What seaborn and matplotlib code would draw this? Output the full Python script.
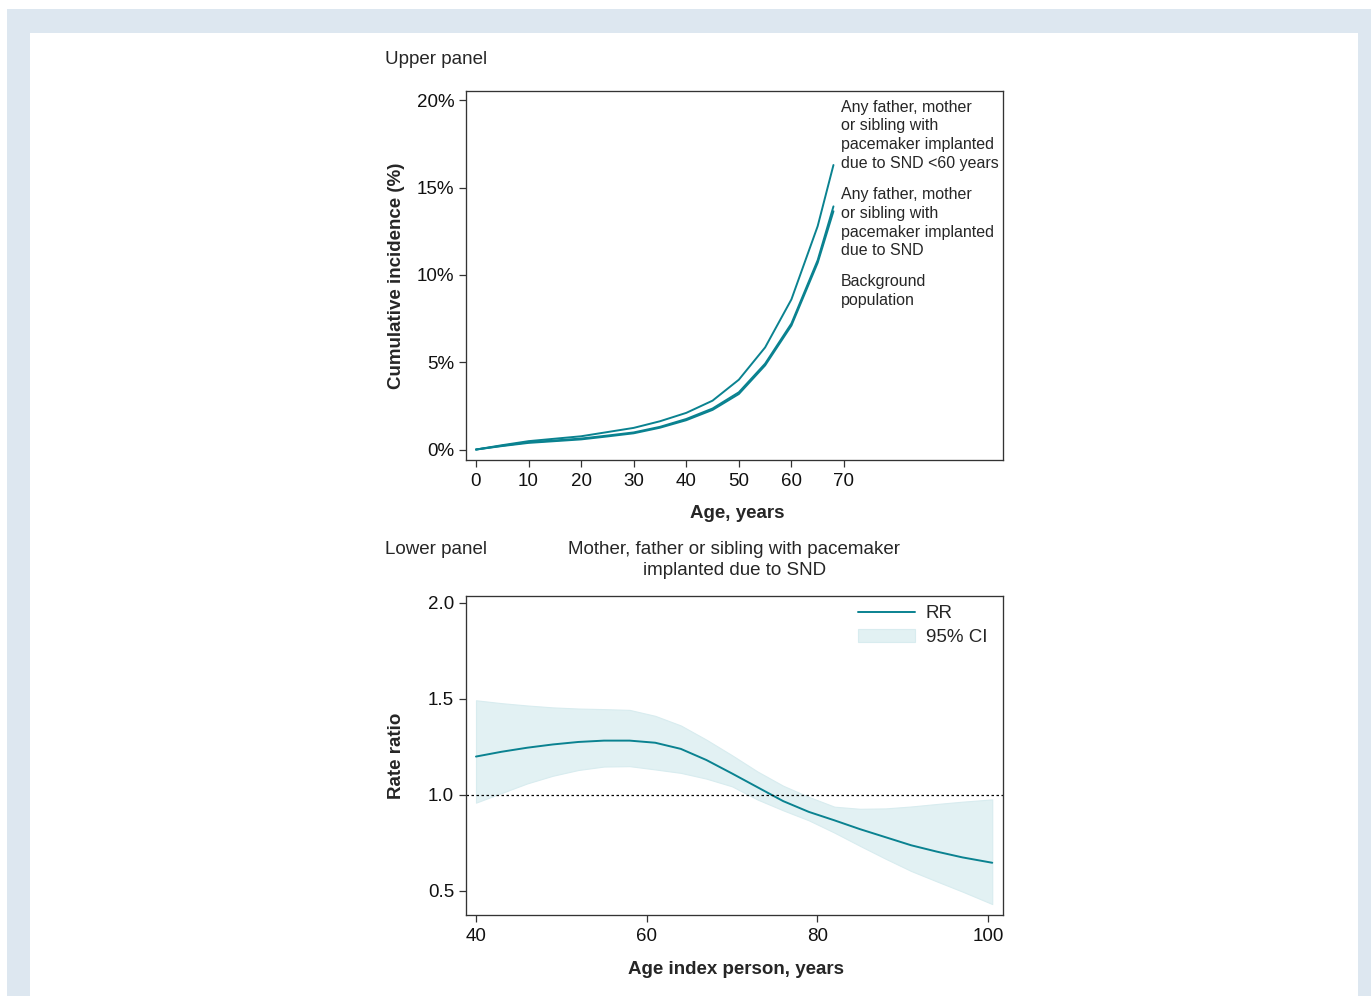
import matplotlib
matplotlib.use("Agg")
import matplotlib.pyplot as plt
import pandas as pd
import seaborn as sns
from matplotlib.patches import Rectangle

# Upper panel: cumulative incidence (%) by age
age_upper = [0, 5, 10, 15, 20, 25, 30, 35, 40, 45, 50, 55, 60, 65, 68]
inc_snd60 = [0.0, 0.25, 0.48, 0.62, 0.76, 1.0, 1.24, 1.62, 2.1, 2.8, 4.0, 5.85, 8.6, 12.8, 16.3]
inc_snd = [0.0, 0.22, 0.42, 0.52, 0.63, 0.8, 0.98, 1.3, 1.75, 2.35, 3.28, 4.92, 7.22, 10.85, 13.93]
inc_background = [0.0, 0.2, 0.38, 0.48, 0.58, 0.75, 0.93, 1.25, 1.68, 2.27, 3.18, 4.82, 7.1, 10.7, 13.65]
upper_labels = [
    "Any father, mother\nor sibling with\npacemaker implanted\ndue to SND <60 years",
    "Any father, mother\nor sibling with\npacemaker implanted\ndue to SND",
    "Background\npopulation",
]

# Lower panel: rate ratio by age of index person
age_lower = [40, 43, 46, 49, 52, 55, 58, 61, 64, 67, 70, 73, 76, 79, 82, 85, 88, 91, 94, 97, 100.5]
rr = [1.20, 1.225, 1.246, 1.263, 1.276, 1.283, 1.283, 1.272, 1.240, 1.182, 1.112,
      1.040, 0.968, 0.912, 0.868, 0.822, 0.780, 0.738, 0.705, 0.675, 0.647]
ci_high = [1.493, 1.478, 1.466, 1.456, 1.450, 1.447, 1.443, 1.412, 1.362, 1.288, 1.207,
           1.122, 1.048, 0.990, 0.939, 0.928, 0.930, 0.940, 0.953, 0.965, 0.977]
ci_low = [0.96, 1.01, 1.06, 1.10, 1.13, 1.148, 1.15, 1.133, 1.115, 1.085, 1.045,
          0.976, 0.92, 0.868, 0.804, 0.735, 0.668, 0.604, 0.55, 0.497, 0.432]

teal = "#0a8290"
ci_fill = "#e2f1f3"
fs = 13.5

sns.set_theme(style="ticks")
plt.rcParams["font.family"] = ["Liberation Sans", "DejaVu Sans"]
plt.rcParams["axes.edgecolor"] = "#333333"
plt.rcParams["axes.linewidth"] = 0.95
plt.rcParams["xtick.major.size"] = 5
plt.rcParams["ytick.major.size"] = 5
plt.rcParams["xtick.major.width"] = 0.9
plt.rcParams["ytick.major.width"] = 0.9
plt.rcParams["xtick.major.pad"] = 4.5
plt.rcParams["xtick.color"] = "#333333"
plt.rcParams["ytick.color"] = "#333333"
plt.rcParams["xtick.labelcolor"] = "#111111"
plt.rcParams["ytick.labelcolor"] = "#111111"

fig = plt.figure(figsize=(13.71, 9.96), dpi=100)

# light frame around the figure
fig.patches.append(Rectangle((7 / 1371, 0), 1, 1 - 9 / 996, transform=fig.transFigure,
                             facecolor="#dde7f0", edgecolor="none", zorder=-2))
fig.patches.append(Rectangle((30 / 1371, 0), (1358 - 30) / 1371, 1 - 33 / 996,
                             transform=fig.transFigure, facecolor="white",
                             edgecolor="none", zorder=-1))

# ---- upper panel
ax1 = fig.add_axes([466 / 1371, 1 - 460 / 996, 537 / 1371, 369 / 996])
df_up = pd.DataFrame({
    "age": age_upper * 3,
    "inc": inc_snd60 + inc_snd + inc_background,
    "group": [upper_labels[0]] * len(age_upper) + [upper_labels[1]] * len(age_upper)
             + [upper_labels[2]] * len(age_upper),
})
sns.lineplot(data=df_up, x="age", y="inc", hue="group", ax=ax1,
             palette=[teal, teal, teal], linewidth=1.4, legend=False)
ax1.set_xlim(-1.9, 100.25)
ax1.set_ylim(-0.6, 20.54)
ax1.set_xticks(range(0, 71, 10))
ax1.set_yticks([0, 5, 10, 15, 20])
ax1.set_yticklabels([f"{v}%" for v in [0, 5, 10, 15, 20]])
ax1.tick_params(labelsize=fs)
ax1.set_xlabel("Age, years", fontsize=fs, fontweight="bold", va="center")
ax1.xaxis.set_label_coords(0.506, -0.146)
ax1.set_ylabel("Cumulative incidence (%)", fontsize=fs, fontweight="bold", va="center")
ax1.yaxis.set_label_coords(-0.13, 0.5)
for lab, yc in zip(upper_labels, [18.0, 13.0, 9.1]):
    ax1.text(69.4, yc, lab, fontsize=11.5, ha="left", va="center", linespacing=1.32)

# ---- lower panel
ax2 = fig.add_axes([466 / 1371, 1 - 915 / 996, 537 / 1371, 319 / 996])
ax2.fill_between(age_lower, ci_low, ci_high, color=ci_fill, edgecolor="#d8ecef",
                 linewidth=0.8, label="95% CI")
df_low = pd.DataFrame({"age": age_lower, "rr": rr})
sns.lineplot(data=df_low, x="age", y="rr", ax=ax2, color=teal, linewidth=1.4, label="RR")
ax2.axhline(1.0, color="black", linestyle=(0, (2, 2)), linewidth=0.9)
ax2.set_xlim(38.83, 101.76)
ax2.set_ylim(0.375, 2.036)
ax2.set_xticks([40, 60, 80, 100])
ax2.set_yticks([0.5, 1.0, 1.5, 2.0])
ax2.set_yticklabels(["0.5", "1.0", "1.5", "2.0"])
ax2.tick_params(labelsize=fs)
ax2.set_xlabel("Age index person, years", fontsize=fs, fontweight="bold", va="center")
ax2.xaxis.set_label_coords(0.502, -0.172)
ax2.set_ylabel("Rate ratio", fontsize=fs, fontweight="bold", va="center")
ax2.yaxis.set_label_coords(-0.13, 0.5)
handles, labels = ax2.get_legend_handles_labels()
order = [labels.index("RR"), labels.index("95% CI")]
ax2.legend([handles[i] for i in order], [labels[i] for i in order], loc="upper right",
           bbox_to_anchor=(0.985, 0.995), borderaxespad=0,
           frameon=False, fontsize=fs, handlelength=3.0, handletextpad=0.6,
           labelspacing=0.35)

fig.text(385 / 1371, 1 - 60 / 996, "Upper panel", fontsize=fs, ha="left", va="center")
fig.text(385 / 1371, 1 - 549 / 996, "Lower panel", fontsize=fs, ha="left", va="center")
fig.text(734.5 / 1371, 1 - 560 / 996, "Mother, father or sibling with pacemaker\nimplanted due to SND",
         fontsize=fs, ha="center", va="center", linespacing=1.35)

fig.savefig("out.png", dpi=100)
